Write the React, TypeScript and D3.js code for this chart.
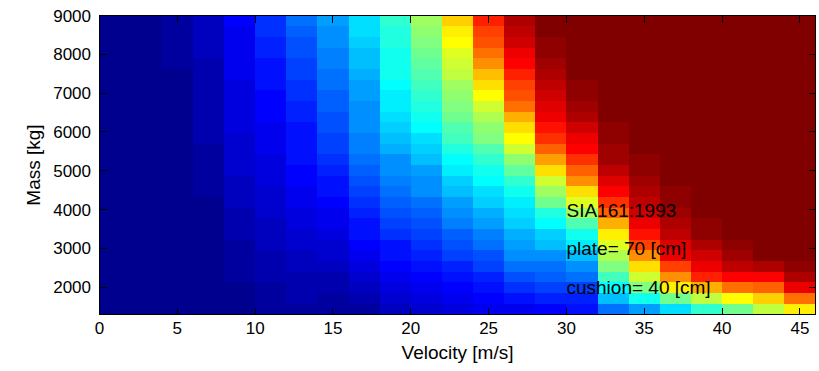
import React, { useEffect } from 'react';
import * as d3 from 'd3';

// Grid edges (pcolor style: each cell takes the value of its lower-left node)
const velocityEdges = [0, 2, 4, 6, 8, 10, 12, 14, 16, 18, 20, 22, 24, 26, 28, 30, 32, 34, 36, 38, 40, 42, 44, 46];
const massEdges = [
  1300, 1575, 1850, 2125, 2400, 2675, 2950, 3225, 3500, 3775, 4050, 4325, 4600, 4875, 5150,
  5425, 5700, 5975, 6250, 6525, 6800, 7075, 7350, 7625, 7900, 8175, 8450, 8725, 9000,
];

// Load level per velocity column [% of colour range], listed from the lightest mass upward
const v00 = [0, 0, 0, 0, 0, 0, 0, 0, 0, 0, 0, 0, 0, 0, 0, 0, 0, 0, 0, 0, 0, 0, 0, 0, 0, 0, 0, 0];
const v02 = [0.5, 0.5, 0.5, 0.5, 0.5, 0.5, 0.5, 0.5, 0.5, 0.5, 0.5, 0.5, 0.5, 0.5, 0.5, 0.5, 0.5, 0.5, 0.5, 0.5, 0.5, 0.5, 0.5, 0.5, 0.5, 0.5, 0.5, 0.5];
const v04 = [1.0, 1.0, 1.0, 1.0, 1.0, 1.0, 1.0, 1.0, 1.0, 1.0, 1.0, 1.0, 1.0, 1.0, 1.0, 1.0, 1.0, 1.0, 1.0, 1.0, 1.0, 1.0, 1.0, 2.2, 2.2, 2.2, 2.2, 2.2];
const v06 = [0.5, 0.6, 0.7, 0.8, 0.8, 0.9, 1.0, 1.0, 1.1, 1.2, 1.5, 2.0, 2.4, 2.6, 2.8, 3.0, 3.2, 3.4, 3.6, 3.8, 4.0, 4.2, 4.4, 4.6, 4.8, 5.0, 5.3, 5.5];
const v08 = [1.1, 1.3, 1.5, 1.7, 1.9, 2.2, 2.6, 3.2, 3.8, 4.4, 5.0, 5.5, 6.0, 6.5, 7.0, 7.3, 7.6, 7.9, 8.2, 8.5, 8.8, 9.2, 9.5, 9.8, 10.2, 10.5, 10.8, 11.0];
const v10 = [2.1, 2.6, 3.1, 3.5, 4.0, 4.6, 5.1, 5.5, 6.0, 6.6, 7.1, 7.5, 8.0, 8.6, 9.1, 9.5, 10.0, 10.6, 11.1, 11.5, 12.0, 12.6, 13.1, 13.6, 14.4, 15.1, 16.0, 17.1];
const v12 = [2.5, 3.5, 4.0, 4.5, 5.0, 6.0, 6.5, 7.5, 8.0, 9.0, 9.5, 10.0, 11.0, 11.5, 12.5, 13.0, 13.5, 14.0, 15.0, 15.5, 16.5, 17.0, 18.0, 18.5, 19.5, 20.0, 21.0, 22.0];
const v14 = [2.5, 3.0, 3.5, 4.5, 5.5, 6.5, 7.5, 8.5, 9.5, 10.5, 11.5, 12.5, 14.0, 15.0, 16.5, 17.5, 18.0, 19.0, 20.0, 20.5, 21.5, 22.0, 23.0, 23.5, 24.5, 25.0, 26.0, 27.0];
const v16 = [3, 4, 6, 7, 8.5, 9.5, 11, 12.5, 14, 15.5, 17, 18.5, 19.5, 20.5, 22, 23.5, 24.5, 25, 26, 26.5, 27.5, 28, 29, 30, 31, 32, 33, 34];
const v18 = [6, 7, 8, 9.5, 11, 12.5, 14, 16, 17.5, 19, 20.5, 22, 23.5, 25, 26.5, 28.5, 30.5, 32, 33, 34.5, 35.5, 36.5, 37.5, 38, 38.5, 39.5, 40, 41];
const v20 = [6.5, 8, 9.5, 11, 13, 14.5, 16, 18, 20, 21.5, 23, 25, 26.5, 28, 30, 32, 34, 36, 37.5, 39.5, 41, 43, 44.5, 46, 47.5, 49, 50.5, 52];
const v22 = [9, 10.5, 12, 13.5, 15.5, 17.5, 19.5, 21.5, 24, 26, 28, 30.5, 32.5, 35, 37, 40, 43, 45, 47, 49, 51, 53, 55, 57, 59, 61.5, 64, 66];
const v24 = [10, 12, 13.5, 15.5, 17.5, 20, 22, 24.5, 27, 29, 31.5, 34, 36, 38.5, 41, 45, 48.5, 51, 54, 57.5, 61, 64.5, 68.5, 72, 76.5, 79, 81, 83];
const v26 = [10.5, 14, 17, 20, 22.5, 25, 27.5, 29.5, 31.5, 33.5, 35.5, 38, 41, 45.5, 51, 57.5, 61, 65.5, 70, 75, 78.5, 81, 83.5, 86, 88.5, 91, 93, 95];
const v28 = [11, 14.5, 17.5, 20.5, 23, 26, 30, 32.5, 36, 40, 47, 53, 57, 64.5, 71, 78, 82, 85, 88, 90, 92, 93.5, 95, 96, 97, 98, 99, 100];
const v30 = [13, 15, 18, 22, 26, 30, 35, 39, 45, 52, 58, 65, 73, 78, 82, 86.5, 88, 91, 94, 96, 97.5, 98, 100, 100, 100, 100, 100, 100];
const v32 = [22, 30, 37, 43, 49, 54, 58, 63, 70, 77, 82, 87, 89.5, 92.5, 95.5, 96.5, 98, 98, 100, 100, 100, 100, 100, 100, 100, 100, 100, 100];
const v34 = [28, 38, 49, 57, 65, 73, 80, 85, 88, 91, 93, 95, 96.5, 97.5, 98, 100, 100, 100, 100, 100, 100, 100, 100, 100, 100, 100, 100, 100];
const v36 = [33, 48, 63, 72, 80, 87.5, 90.5, 93, 95, 96.5, 97.5, 98, 100, 100, 100, 100, 100, 100, 100, 100, 100, 100, 100, 100, 100, 100, 100, 100];
const v38 = [42, 56, 70, 83, 89, 92, 95, 97, 98, 100, 100, 100, 100, 100, 100, 100, 100, 100, 100, 100, 100, 100, 100, 100, 100, 100, 100, 100];
const v40 = [47, 62, 75, 86, 93, 96, 98, 100, 100, 100, 100, 100, 100, 100, 100, 100, 100, 100, 100, 100, 100, 100, 100, 100, 100, 100, 100, 100];
const v42 = [56, 66, 77, 87, 95, 100, 100, 100, 100, 100, 100, 100, 100, 100, 100, 100, 100, 100, 100, 100, 100, 100, 100, 100, 100, 100, 100, 100];
const v44 = [64, 76, 88, 95, 98, 100, 100, 100, 100, 100, 100, 100, 100, 100, 100, 100, 100, 100, 100, 100, 100, 100, 100, 100, 100, 100, 100, 100];

const levelColumns = [v00, v02, v04, v06, v08, v10, v12, v14, v16, v18, v20, v22, v24, v26, v28, v30, v32, v34, v36, v38, v40, v42, v44];

const xTicks = [0, 5, 10, 15, 20, 25, 30, 35, 40, 45];
const yTicks = [2000, 3000, 4000, 5000, 6000, 7000, 8000, 9000];

const noteVelocity = 30;
const notes = ['SIA161:1993', 'plate= 70 [cm]', 'cushion= 40 [cm]'];
const noteMasses = [4000, 3000, 2000];

const W = 819;
const H = 371;
const FONT = '"Liberation Sans", Arial, Helvetica, sans-serif';
const TICK = 7;

// 64-entry jet colour map
function jet64(): string[] {
  const u = (i: number) => (i < 1 || i > 47 ? 0 : i <= 16 ? i / 16 : i <= 31 ? 1 : (48 - i) / 16);
  return d3.range(1, 65).map((k) =>
    d3.rgb(Math.round(u(k - 24) * 255), Math.round(u(k - 8) * 255), Math.round(u(k + 8) * 255)).formatHex()
  );
}

export default function App() {
  useEffect(() => {
    document.body.style.margin = '0';
  }, []);

  const x = d3.scaleLinear().domain([0, 46]).range([99.5, 815.5]);
  const y = d3.scaleLinear().domain([1300, 9000]).range([314.5, 15.5]);
  const color = d3.scaleQuantize<string>().domain([0, 100]).range(jet64());

  const [x0, x1] = x.range();
  const [y0, y1] = y.range();

  const cells: React.ReactElement[] = [];
  levelColumns.forEach((col, i) => {
    col.forEach((val, j) => {
      const xa = x(velocityEdges[i]);
      const xb = x(velocityEdges[i + 1]);
      const ya = y(massEdges[j + 1]);
      const yb = y(massEdges[j]);
      cells.push(
        <rect key={`${i}-${j}`} x={xa} y={ya} width={xb - xa} height={yb - ya} fill={color(val)} />
      );
    });
  });

  return (
    <svg
      width={W}
      height={H}
      viewBox={`0 0 ${W} ${H}`}
      style={{ position: 'absolute', left: 0, top: 0, display: 'block', background: '#fff' }}
      fontFamily={FONT}
    >
      <rect x={0} y={0} width={W} height={H} fill="#fff" />
      <g shapeRendering="crispEdges">{cells}</g>

      {/* axes box with inward ticks on all sides */}
      <g stroke="#000" strokeWidth={1} fill="none" shapeRendering="crispEdges">
        <rect x={x0} y={y1} width={x1 - x0} height={y0 - y1} />
        {xTicks.map((t) => (
          <g key={`xt${t}`}>
            <line x1={x(t)} x2={x(t)} y1={y0} y2={y0 - TICK} />
            <line x1={x(t)} x2={x(t)} y1={y1} y2={y1 + TICK} />
          </g>
        ))}
        {yTicks.map((t) => (
          <g key={`yt${t}`}>
            <line x1={x0} x2={x0 + TICK} y1={y(t)} y2={y(t)} />
            <line x1={x1} x2={x1 - TICK} y1={y(t)} y2={y(t)} />
          </g>
        ))}
      </g>

      {/* tick labels */}
      <g fontSize={17} fill="#000">
        {xTicks.map((t) => (
          <text key={`xl${t}`} x={x(t)} y={334} textAnchor="middle">
            {t}
          </text>
        ))}
        {yTicks.map((t) => (
          <text key={`yl${t}`} x={91} y={y(t) + 6} textAnchor="end">
            {t}
          </text>
        ))}
      </g>

      {/* axis titles */}
      <text x={(x0 + x1) / 2} y={359} textAnchor="middle" fontSize={19} fill="#000">
        Velocity [m/s]
      </text>
      <text transform={`translate(40, ${(y0 + y1) / 2}) rotate(-90)`} textAnchor="middle" fontSize={19} fill="#000">
        Mass [kg]
      </text>

      {/* annotations */}
      <g fontSize={19} fill="#000">
        {notes.map((n, i) => (
          <text key={n} x={x(noteVelocity)} y={y(noteMasses[i]) + 7}>
            {n}
          </text>
        ))}
      </g>
    </svg>
  );
}
